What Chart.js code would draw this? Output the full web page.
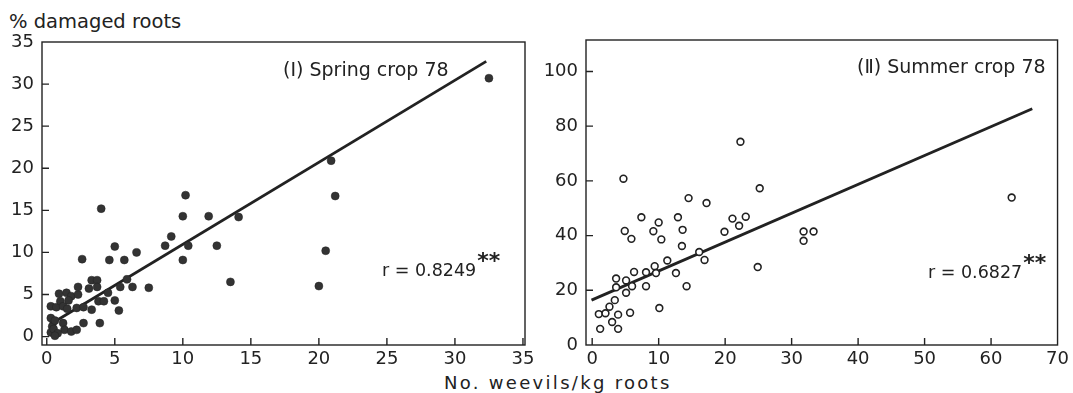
<!DOCTYPE html>
<html>
<head>
<meta charset="utf-8">
<script src="https://cdn.jsdelivr.net/npm/chart.js@4.4.1/dist/chart.umd.min.js"></script>
<style>
  body { margin: 0; background: #fff; width: 1073px; height: 393px; overflow: hidden; position: relative; font-family: "DejaVu Sans", sans-serif; color: #222; }
  canvas { position: absolute; left: 0; top: 0; }
  .ttl { position: absolute; white-space: nowrap; line-height: 22px; }
</style>
</head>
<body>
<div class="ttl" style="left:9px; top:11px; font-size:19.5px;">% damaged roots</div>
<div class="ttl" style="left:444px; top:372px; font-size:18px; letter-spacing:2.3px;">No. weevils/kg roots</div>
<canvas id="spring" width="1073" height="393"></canvas>
<canvas id="summer" width="1073" height="393"></canvas>
<script>
// (I) spring crop 78 - weevils/kg roots vs % damaged roots
const springX = [32.5, 20.9, 21.2, 20.5, 20.0, 10.2, 10.0, 11.9, 14.1, 9.15, 8.7, 10.4, 12.5, 10.0, 13.5, 7.5,
  4.0, 5.0, 2.6, 4.6, 5.7, 6.6, 5.9, 6.3, 5.4, 5.0, 5.3,
  3.3, 3.7, 3.1, 3.7, 4.5, 3.8, 4.2, 3.3, 3.9, 2.7,
  0.9, 1.45, 1.8, 2.3, 2.3, 0.3, 0.7, 1.0, 1.6, 1.2, 1.5, 2.2, 2.7,
  0.5, 0.4, 1.2, 1.3, 1.8, 2.2, 0.3, 0.6, 0.3, 0.5, 0.8, 0.6];
const springY = [30.7, 20.9, 16.7, 10.2, 6.0, 16.8, 14.3, 14.3, 14.2, 11.9, 10.8, 10.8, 10.8, 9.1, 6.5, 5.8,
  15.2, 10.7, 9.2, 9.1, 9.1, 10.0, 6.8, 5.9, 5.9, 4.3, 3.1,
  6.7, 6.7, 5.7, 5.9, 5.2, 4.2, 4.2, 3.2, 1.6, 1.6,
  5.1, 5.2, 4.8, 5.0, 5.9, 3.6, 3.5, 4.2, 4.3, 3.6, 3.3, 3.4, 3.5,
  1.8, 1.2, 1.6, 0.8, 0.6, 0.8, 2.2, 1.9, 0.5, 0.9, 0.4, 0.1];
const springFitX = [0.6, 32.3];
const springFitY = [1.8, 32.7];
const springTicksX = [0, 35, 5];   // min, max, step
const springTicksY = [0, 35, 5];

// (II) summer crop 78
const summerX = [4.7, 22.3, 25.2, 63.1, 14.5, 17.2, 7.4, 12.9, 10.0, 21.1, 23.1, 22.1, 19.9, 4.9, 9.2, 13.6,
  5.9, 10.4, 13.5, 31.8, 33.3, 31.8, 16.1, 16.9, 11.3, 24.9, 9.4, 6.3, 8.1, 9.6, 12.6,
  3.6, 5.1, 3.6, 6.0, 8.1, 14.2, 5.1, 3.4, 2.6, 1.0, 2.0, 3.9, 5.7, 10.1, 3.0, 1.2, 3.9];
const summerY = [60.8, 74.3, 57.3, 53.9, 53.7, 51.9, 46.7, 46.7, 44.8, 46.2, 46.9, 43.6, 41.4, 41.7, 41.6, 42.1,
  38.8, 38.6, 36.2, 41.5, 41.5, 38.1, 34.0, 31.1, 30.9, 28.5, 28.8, 26.7, 26.6, 26.3, 26.3,
  24.3, 23.6, 21.1, 21.5, 21.5, 21.5, 19.1, 16.4, 14.0, 11.3, 11.6, 11.1, 11.8, 13.5, 8.4, 5.9, 5.9];
const summerFitX = [-0.1, 66.2];
const summerFitY = [16.4, 86.4];
const summerTicksX = [0, 70, 10];
const summerTicksY = [0, 100, 20];

const INK = '#222';
const FONT = '"DejaVu Sans", sans-serif';

function pts(xs, ys) {
  return xs.map((x, i) => ({x: x, y: ys[i]}));
}

// box round the plot + inward tick marks + the panel texts
const framePlugin = {
  id: 'frame',
  afterDraw(chart, args, opts) {
    const ctx = chart.ctx;
    const a = chart.chartArea;
    const sx = chart.scales.x, sy = chart.scales.y;
    ctx.save();
    ctx.strokeStyle = INK;
    ctx.lineWidth = 1.4;
    ctx.strokeRect(a.left, a.top, a.right - a.left, a.bottom - a.top);
    ctx.beginPath();
    sx.ticks.forEach(t => {
      const px = sx.getPixelForValue(t.value);
      if (px <= a.left + 2 || px >= a.right - 2) return;
      ctx.moveTo(px, a.bottom);
      ctx.lineTo(px, a.bottom - 7);
    });
    sy.ticks.forEach(t => {
      const py = sy.getPixelForValue(t.value);
      if (py <= a.top + 2 || py >= a.bottom - 2) return;
      ctx.moveTo(a.left, py);
      ctx.lineTo(a.left + 7, py);
    });
    ctx.stroke();

    ctx.fillStyle = INK;
    ctx.textBaseline = 'middle';
    ctx.textAlign = 'left';
    ctx.font = '19px ' + FONT;
    ctx.fillText(opts.title, opts.titleX, opts.titleY);
    // r value with superscript stars
    ctx.font = '17.5px ' + FONT;
    ctx.fillText(opts.r, opts.rX, opts.rY);
    const w = ctx.measureText(opts.r).width;
    ctx.font = 'bold 22px ' + FONT;
    ctx.fillText('**', opts.rX + w + 1, opts.rY - 9);
    ctx.restore();
  }
};

function makeChart(id, xs, ys, fx, fy, tx, ty, filled, layout) {
  return new Chart(document.getElementById(id), {
    type: 'scatter',
    data: {
      datasets: [
        {
          data: pts(xs, ys),
          pointRadius: filled ? 4 : 3.4,
          pointBackgroundColor: filled ? '#333' : '#fff',
          pointBorderColor: INK,
          pointBorderWidth: filled ? 0.5 : 1.6,
        },
        {
          type: 'line',
          data: pts(fx, fy),
          borderColor: INK,
          borderWidth: 2.8,
          pointRadius: 0,
          fill: false,
        }
      ]
    },
    options: {
      responsive: false,
      animation: false,
      events: [],
      layout: { padding: layout.padding },
      plugins: {
        legend: { display: false },
        tooltip: { enabled: false },
        frame: layout.text
      },
      scales: {
        x: {
          min: layout.xmin, max: layout.xmax,
          afterFit: s => { s.height = 30; },
          grid: { display: false, drawTicks: false },
          border: { display: false },
          ticks: { stepSize: tx[2], includeBounds: false, padding: 4, color: INK, font: { family: FONT, size: 18 }, maxRotation: 0 }
        },
        y: {
          min: layout.ymin, max: layout.ymax,
          afterFit: s => { s.width = layout.yw; },
          grid: { display: false, drawTicks: false },
          border: { display: false },
          ticks: { stepSize: ty[2], includeBounds: false, padding: 8, color: INK, font: { family: FONT, size: 18 } }
        }
      }
    },
    plugins: [framePlugin]
  });
}

makeChart('spring', springX, springY, springFitX, springFitY, springTicksX, springTicksY, true, {
  padding: { left: 0, top: 42, right: 548, bottom: 18 },
  yw: 42, xmin: -0.35, xmax: 35.15, ymin: -1, ymax: 35,
  text: { title: '(Ⅰ) Spring crop 78', titleX: 283, titleY: 71, r: 'r = 0.8249', rX: 382, rY: 271 }
});

makeChart('summer', summerX, summerY, summerFitX, summerFitY, summerTicksX, summerTicksY, false, {
  padding: { left: 536, top: 40, right: 7, bottom: 18 },
  yw: 50, xmin: -0.93, xmax: 70, ymin: 0, ymax: 111.5,
  text: { title: '(Ⅱ) Summer crop 78', titleX: 857, titleY: 68, r: 'r = 0.6827', rX: 928, rY: 273 }
});
</script>
</body>
</html>
